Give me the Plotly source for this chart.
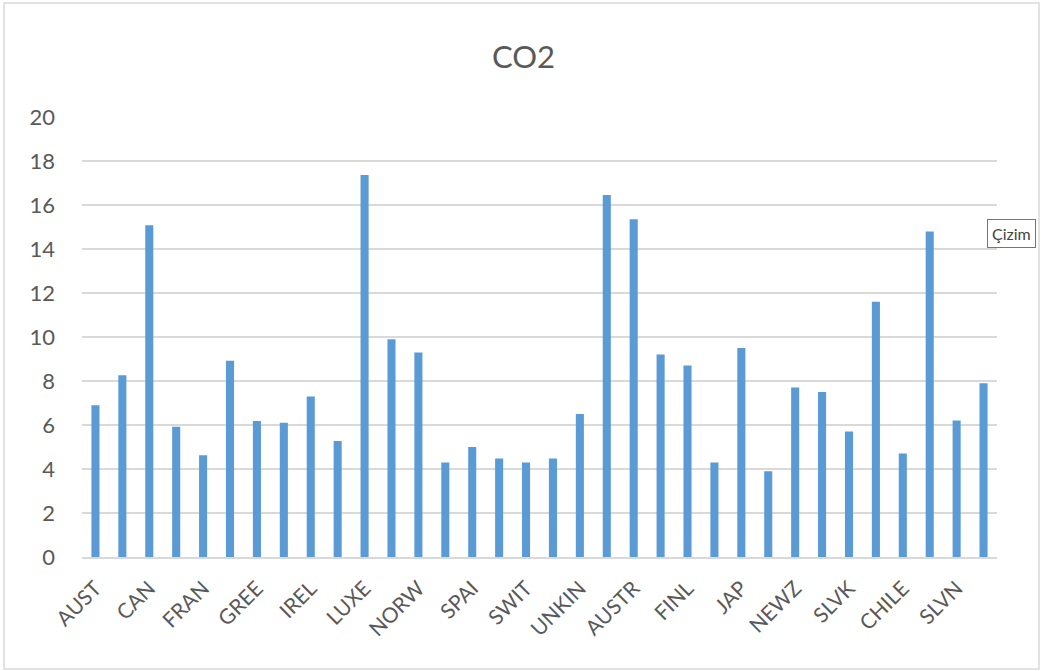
import plotly.graph_objects as go

countries = ["AUST", "BELG", "CAN", "DENM", "FRAN", "GERM", "GREE", "ICEL", "IREL", "ITAL",
             "LUXE", "NETH", "NORW", "PORT", "SPAI", "SWED", "SWIT", "TURK", "UNKIN", "UNST",
             "AUSTR", "CZEC", "FINL", "HUNG", "JAP", "MEX", "NEWZ", "POL", "SLVK", "KORE",
             "CHILE", "ESTO", "SLVN", "ISRA"]
co2 = [6.9, 8.26, 15.08, 5.92, 4.62, 8.92, 6.18, 6.1, 7.29, 5.27,
       17.36, 9.9, 9.3, 4.3, 5.0, 4.48, 4.3, 4.48, 6.5, 16.45,
       15.35, 9.2, 8.7, 4.3, 9.5, 3.9, 7.7, 7.5, 5.7, 11.6,
       4.7, 14.8, 6.2, 7.9]
shown_labels = countries[::2]
y_ticks = list(range(0, 21, 2))

fig = go.Figure()
fig.add_trace(go.Bar(x=countries, y=co2, marker=dict(color="#5B9BD5", line=dict(width=0))))

fig.update_layout(
    width=1047, height=671,
    margin=dict(l=82, r=50, t=117, b=114, autoexpand=False),
    paper_bgcolor="white", plot_bgcolor="white",
    font=dict(family="Lato, Open Sans, sans-serif", color="#595959"),
    title=dict(text="CO2", x=0.5, xanchor="center", y=1 - 57 / 671, yanchor="middle",
               font=dict(size=31, color="#595959")),
    bargap=0.7,
    showlegend=False,
)
fig.update_xaxes(type="category", tickmode="array", tickvals=shown_labels, ticktext=shown_labels,
                 tickangle=-45, tickfont=dict(size=21, color="#595959"), showgrid=False,
                 showline=True, linecolor="#d9d9d9", linewidth=1.5, ticks="", ticklabelstandoff=9)
fig.update_yaxes(range=[0, 20], tickmode="array", tickvals=y_ticks,
                 tickfont=dict(size=22, color="#595959"), showgrid=True, gridcolor="#d9d9d9",
                 gridwidth=1.5, zeroline=False, showline=False, ticks="", ticklabelstandoff=26)

fig.add_shape(type="rect", xref="paper", yref="paper",
              x0=(4 - 82) / 915, x1=(1039 - 82) / 915, y0=(557 - 669) / 440, y1=(557 - 3) / 440,
              line=dict(color="#d9d9d9", width=1.5), fillcolor="rgba(0,0,0,0)", layer="below")
fig.add_annotation(text="Çizim", xref="paper", yref="paper", x=(987 - 82) / 915, y=(557 - 233) / 440,
                   xanchor="left", yanchor="middle", showarrow=False,
                   font=dict(size=16, color="#444444"), bordercolor="#767676", borderwidth=1,
                   bgcolor="white", borderpad=4)

fig.write_html("out.html", config={"displayModeBar": False},
               post_script="document.body.style.margin='0';document.body.style.overflow='hidden';")
